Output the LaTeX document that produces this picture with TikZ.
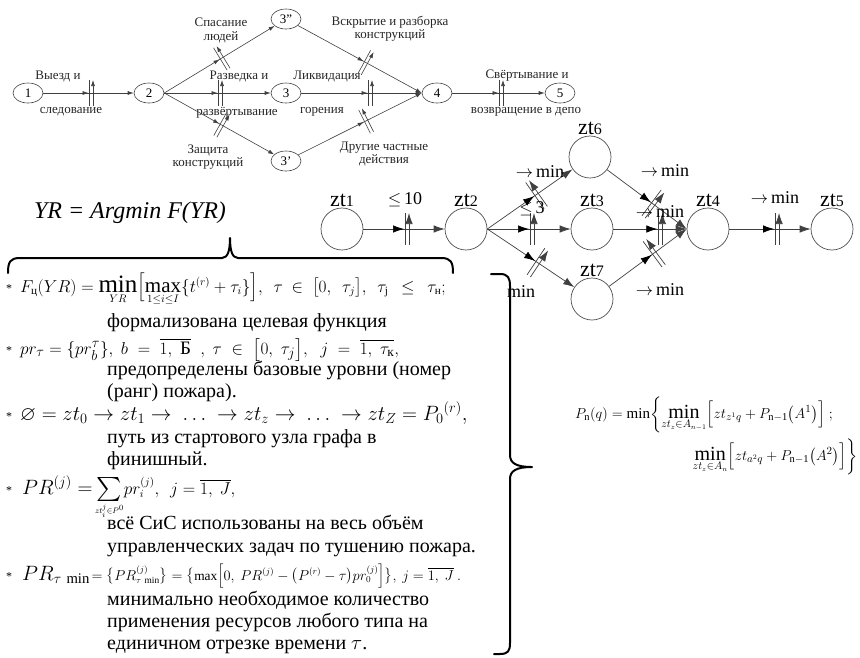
\documentclass[tikz,border=0pt]{standalone}
\usepackage{amsmath,amssymb}
\usepackage{fontspec}
\setmainfont{Liberation Serif}
\usetikzlibrary{arrows.meta,decorations.markings,shapes.geometric}

% zt-label: large "zt" with a smaller index on the baseline
\newcommand\ztlab[1]{{\fontsize{22}{22}\selectfont zt}{\fontsize{16}{16}\selectfont #1}}
\newcommand\descfont{\fontsize{20}{22}\selectfont}
% large upright operator names with limits
\newcommand\bigop[2]{\mathop{\text{\fontsize{#1}{#1}\selectfont #2}}\limits}

\tikzset{
  % small stage graph
  ev/.style={draw=black!75, ellipse, minimum width=30pt, minimum height=20pt,
    inner sep=0pt, line width=0.6pt, font=\fontsize{13}{13}\selectfont},
  tlink/.style={draw=black!75, line width=0.6pt, -{Latex[length=6pt,width=4pt]}},
  tbar/.style={postaction={decorate}, decoration={markings,
    mark=at position #1 with {\arrow[black!75]{Latex[length=6pt,width=4pt]};
      \draw[black!75, line width=0.6pt] (1pt,-13pt)--(1pt,13pt) (4.5pt,-13pt)--(4.5pt,13pt);}}},
  tlab/.style={font=\fontsize{13}{13}\selectfont, text=black!85, inner sep=0pt},
  % state graph
  st/.style={draw=black!70, circle, minimum size=42pt, inner sep=0pt, line width=0.7pt},
  mlink/.style={draw=black!75, line width=0.7pt, -{Latex[length=11pt,width=7.5pt]}},
  mbar/.style={postaction={decorate}, decoration={markings,
    mark=at position #1 with {\arrow[black]{Latex[length=11pt,width=7.5pt]};
      \draw[black!75, line width=0.7pt] (1pt,-16pt)--(1pt,16pt) (5pt,-16pt)--(5pt,16pt);}}},
  mlab/.style={font=\fontsize{18}{18}\selectfont, inner sep=0pt},
  % braces and text
  bracepath/.style={line width=2pt, line cap=round, line join=round},
  desc/.style={anchor=base west, inner sep=0pt, font=\descfont},
  fml/.style={anchor=base west, inner sep=0pt},
  star/.style={anchor=base west, inner sep=0pt, font=\fontsize{12}{12}\selectfont},
}

\begin{document}
\begin{tikzpicture}[x=1pt, y=-1pt]
\useasboundingbox (0,0) rectangle (860,657);

% ---------- stages of fire fighting ----------
\node[ev] (n1) at (28,93) {1};
\node[ev] (n2) at (149,93) {2};
\node[ev] (n3a) at (286,19) {3"};
\node[ev] (n3) at (286,93) {3};
\node[ev] (n3b) at (286,161) {3'};
\node[ev] (n4) at (437,93) {4};
\node[ev] (n5) at (560,93) {5};

\draw[tlink, tbar=0.5] (n1) -- (n2);
\draw[tlink, tbar=0.5] (n2.east) -- (n3a);
\draw[tlink, tbar=0.5] (n2.east) -- (n3);
\draw[tlink, tbar=0.5] (n2.east) -- (n3b);
\draw[tlink, tbar=0.53] (n3a) -- (n4.west);
\draw[tlink, tbar=0.55] (n3) -- (n4.west);
\draw[tlink, tbar=0.53] (n3b) -- (n4.west);
\draw[tlink, tbar=0.5] (n4) -- (n5);

\node[tlab] (l12a) at (58,76) {Выезд и};
\node[tlab] (l12b) at (71,112) {следование};
\node[tlab, align=center] (l23a) at (221,30) {Спасание\\[1pt]людей};
\node[tlab] (l23b) at (239,76) {Разведка и};
\node[tlab] (l23c) at (237,113) {развёртывание};
\node[tlab, align=center] (l23d) at (208,157) {Защита\\[0pt]конструкций};
\node[tlab, align=center] (l34a) at (390,29) {Вскрытие и разборка\\[0pt]конструкций};
\node[tlab] (l34b) at (327,76) {Ликвидация};
\node[tlab] (l34c) at (322,112) {горения};
\node[tlab, align=center] (l34d) at (384,154) {Другие частные\\[0pt]действия};
\node[tlab] (l45a) at (527,76) {Свёртывание и};
\node[tlab] (l45b) at (526,112) {возвращение в депо};

% ---------- state graph ----------
\node[st, label={[inner sep=1pt]above:\ztlab{1}}] (z1) at (342,229) {};
\node[st, label={[inner sep=1pt]above:\ztlab{2}}] (z2) at (466,229) {};
\node[st, label={[inner sep=1pt]above:\ztlab{6}}] (z6) at (590,157) {};
\node[st, label={[inner sep=1pt]above:\ztlab{3}}] (z3) at (592,229) {};
\node[st, label={[inner sep=1pt]above:\ztlab{7}}] (z7) at (592,299) {};
\node[st, label={[inner sep=1pt]above:\ztlab{4}}] (z4) at (708,229) {};
\node[st, label={[inner sep=1pt]above:\ztlab{5}}] (z5) at (832,229) {};

\draw[mlink, mbar=0.5] (z1) -- (z2);
\draw[mlink, mbar=0.55] (z2.east) -- (z6);
\draw[mlink, mbar=0.5] (z2.east) -- (z3);
\draw[mlink, mbar=0.55] (z2.east) -- (z7);
\draw[mlink, mbar=0.55] (z6) -- (z4.west);
\draw[mlink, mbar=0.6] (z3) -- (z4.west);
\draw[mlink, mbar=0.55] (z7) -- (z4.west);
\draw[mlink, mbar=0.55] (z4) -- (z5);

\node[mlab] (c12) at (405,200) {$\le$\,10};
\node[mlab] (c26) at (540,172) {$\to$\,min};
\node[mlab] (c23) at (532,209) {$\le$\,3};
\node[mlab] (c27) at (521,292) {min};
\node[mlab] (c64) at (665,171) {$\to$\,min};
\node[mlab] (c34) at (660,212) {$\to$\,min};
\node[mlab] (c74) at (660,290) {$\to$\,min};
\node[mlab] (c45) at (775,198) {$\to$\,min};

% ---------- goal function ----------
\node[inner sep=0pt, font=\fontsize{24}{24}\selectfont\itshape] (goal) at (130,213) {YR = Argmin F(YR)};

\draw[bracepath] (8,273) .. controls (8,262) and (10,258) .. (20,258) -- (222,258)
  .. controls (228,258) and (230,250) .. (230,238)
  .. controls (230,250) and (232,258) .. (238,258) -- (441,258)
  .. controls (451,258) and (453,262) .. (453,273);

\draw[bracepath] (491,274) -- (500,274) .. controls (508,274) and (510,278) .. (510,286)
  -- (510,455) .. controls (510,463) and (516,467) .. (532,467)
  .. controls (516,467) and (510,471) .. (510,479)
  -- (510,643) .. controls (510,651) and (508,654) .. (500,654) -- (494,654);

% ---------- conditions ----------
\node[star] (s1) at (6,292) {*};
\node[fml, font=\fontsize{16}{16}\selectfont] (f1) at (20,292)
  {$F_{\text{ц}}(YR)=\bigop{25}{min}_{YR}\Bigl[\bigop{21}{max}_{1\le i\le I}\{t^{(r)}+\tau_i\}\Bigr],\ \ \tau\ \in\ \bigl[0,\ \ \tau_j\bigr],\ \ \tau_{\mathrm{j}}\ \ \le\ \ \tau_{\text{н}};$};
\node[desc] (d1) at (107,327) {формализована целевая функция};

\node[star] (s2) at (6,354) {*};
\node[fml, font=\fontsize{19}{19}\selectfont] (f2) at (20,354)
  {$pr_\tau=\{pr_b^\tau\},\ b\ =\ \overline{1,\ \text{Б}}\ \ ,\ \tau\ \in\ \bigl[0,\ \tau_j\bigr],\ \ j\ =\ \overline{1,\ \tau_{\text{к}}},$};
\node[desc] (d2) at (107,375) {предопределены базовые уровни (номер};
\node[desc] (d3) at (107,397) {(ранг) пожара).};

\node[star] (s3) at (6,420) {*};
\node[fml, font=\fontsize{20.3}{20.3}\selectfont] (f3) at (20,420)
  {$\varnothing=zt_0\to zt_1\to\ \dots\ \to zt_z\to\ \dots\ \to zt_Z=P_0{}^{(r)},$};
\node[desc] (d4) at (107,443) {путь из стартового узла графа в};
\node[desc] (d5) at (107,465) {финишный.};

\node[star] (s4) at (6,494) {*};
\node[fml] (f4) at (22,494)
  {{\fontsize{22}{22}\selectfont$PR^{(j)}=$}\ {\fontsize{16}{16}\selectfont$\mathop{\raisebox{-2pt}{\scalebox{1.5}{$\sum$}}}\limits_{\scriptscriptstyle zt_i^j\in P^0}\!pr_i^{(j)},\ \ j=\overline{1,\ J},$}};
\node[desc] (d6) at (107,529) {всё СиС использованы на весь объём};
\node[desc] (d7) at (107,552) {управленческих задач по тушению пожара.};

\node[star] (s5) at (6,580) {*};
\node[fml] (f5) at (22,580)
  {{\fontsize{21}{21}\selectfont$PR_{\tau\ \mathrm{min}}$}\,{\fontsize{13.4}{13.4}\selectfont$=\bigl\{PR^{(j)}_{\tau\ \mathrm{min}}\bigr\}=\bigl\{\max\Bigl[0,\ PR^{(j)}-\bigl(P^{(r)}-\tau\bigr)pr_0^{(j)}\Bigr]\bigr\},\ j=\overline{1,\ J}\ .$}};
\node[desc] (d8) at (107,605) {минимально необходимое количество};
\node[desc] (d9) at (107,627) {применения ресурсов любого типа на};
\node[desc] (d10) at (107,649) {единичном отрезке времени $\tau$.};

% ---------- recurrence ----------
\node[fml, font=\fontsize{15}{15}\selectfont] (r1) at (575,418)
  {$P_{\mathrm{n}}(q)=\min\biggl\{\bigop{20}{min}_{zt_z\in A_{n-1}}\Bigl[zt_{z^1q}+P_{\mathrm{n-1}}\bigl(A^1\bigr)\Bigr]\ ;$};
\node[fml, font=\fontsize{15}{15}\selectfont, anchor=base east] (r2) at (858,460)
  {$\bigop{20}{min}_{zt_z\in A_n}\Bigl[zt_{a^2q}+P_{\mathrm{n-1}}\bigl(A^2\bigr)\Bigr]\biggr\}$};

\end{tikzpicture}
\end{document}
